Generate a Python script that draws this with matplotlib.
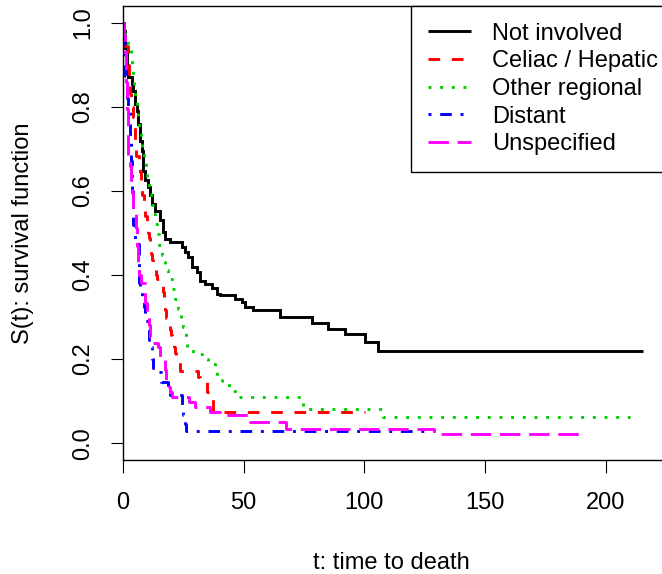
import numpy as np
import matplotlib
matplotlib.use("Agg")
import matplotlib.pyplot as plt

plt.rcParams['font.family'] = ['Liberation Sans', 'DejaVu Sans']

groups = ["Not involved", "Celiac / Hepatic", "Other regional", "Distant", "Unspecified"]
colors = ["#000000", "#FF0000", "#00CD00", "#0000FF", "#FF00FF"]

t_not = [0.3, 0.8, 1.5, 2.2, 3.6, 4.3, 5.0, 5.7, 6.4, 7.0, 7.7, 8.4, 9.1, 10.5, 11.2, 11.9,
         13.3, 15.3, 16.7, 17.4, 19.5, 24.3, 25.7, 27.1, 28.4, 30.5, 31.9, 34.0, 36.7, 38.8,
         40.2, 46.4, 49.2, 50.5, 54.0, 65.0, 78.2, 85.1, 92.1, 100.3, 105.8]
s_not = [0.98, 0.941, 0.898, 0.870, 0.854, 0.838, 0.807, 0.791, 0.759, 0.720, 0.696, 0.648,
         0.625, 0.609, 0.590, 0.569, 0.553, 0.530, 0.502, 0.486, 0.478, 0.466, 0.454, 0.442,
         0.419, 0.407, 0.387, 0.378, 0.370, 0.356, 0.352, 0.344, 0.336, 0.324, 0.318, 0.299,
         0.286, 0.272, 0.259, 0.241, 0.219]
end_not = 215.3

t_cel = [0.5, 1.0, 2.0, 2.5, 3.0, 3.5, 4.2, 5.0, 5.5, 6.5, 7.0, 7.6, 8.0, 8.6, 9.0, 9.3, 9.8,
         10.2, 10.8, 11.2, 11.5, 12.0, 12.4, 13.5, 14.2, 15.0, 16.5, 17.0, 17.5, 18.0, 19.0,
         19.5, 20.0, 20.3, 21.0, 21.5, 22.0, 23.5, 31.0, 31.8, 35.0, 35.5, 37.3]
s_cel = [0.96, 0.945, 0.90, 0.86, 0.83, 0.80, 0.775, 0.72, 0.684, 0.667, 0.644, 0.62, 0.59,
         0.572, 0.555, 0.54, 0.52, 0.50, 0.487, 0.466, 0.45, 0.435, 0.416, 0.40, 0.39, 0.38,
         0.359, 0.335, 0.316, 0.297, 0.292, 0.27, 0.257, 0.245, 0.23, 0.214, 0.192, 0.172,
         0.157, 0.145, 0.121, 0.109, 0.073]
end_cel = 100.3

t_oth = [0.5, 1.0, 2.0, 3.2, 3.6, 4.0, 4.5, 5.1, 5.6, 6.2, 6.8, 7.3, 8.0, 8.7, 9.4, 10.1, 10.9,
         11.7, 12.3, 13.1, 14.0, 15.0, 16.0, 16.7, 17.4, 18.8, 20.2, 21.5, 22.9, 24.0, 25.0,
         26.0, 26.6, 28.9, 32.6, 35.4, 38.1, 38.8, 40.9, 44.0, 46.4, 74.7, 107.8]
s_oth = [0.985, 0.973, 0.95, 0.928, 0.90, 0.876, 0.85, 0.825, 0.80, 0.771, 0.745, 0.720, 0.695,
         0.668, 0.645, 0.619, 0.593, 0.567, 0.546, 0.522, 0.498, 0.472, 0.447, 0.43, 0.411,
         0.39, 0.367, 0.343, 0.320, 0.298, 0.276, 0.252, 0.229, 0.211, 0.201, 0.189, 0.175,
         0.151, 0.142, 0.124, 0.110, 0.082, 0.0625]
end_oth = 210.0

t_dis = [0.3, 0.7, 1.0, 1.8, 2.2, 2.7, 3.0, 3.2, 3.4, 3.8, 3.9, 4.0, 4.1, 4.2, 4.8, 5.0, 6.5,
         6.6, 7.0, 7.9, 8.8, 9.2, 10.9, 11.4, 12.0, 12.6, 14.4, 15.7, 18.5, 19.3, 24.3, 25.0,
         25.6, 26.0]
s_dis = [0.95, 0.886, 0.874, 0.822, 0.80, 0.748, 0.727, 0.70, 0.672, 0.63, 0.60, 0.577, 0.546,
         0.52, 0.49, 0.475, 0.41, 0.38, 0.36, 0.336, 0.323, 0.29, 0.245, 0.228, 0.20, 0.178,
         0.169, 0.146, 0.131, 0.114, 0.086, 0.067, 0.045, 0.029]
end_dis = 125.0

t_uns = [0.5, 0.8, 1.2, 1.5, 1.8, 2.0, 2.1, 2.2, 2.8, 3.2, 3.7, 4.0, 4.2, 5.5, 5.8, 6.2, 6.8,
         7.5, 9.2, 9.8, 10.9, 11.3, 12.3, 14.5, 15.5, 17.5, 18.0, 19.0, 19.5, 20.5, 27.5, 30.0,
         36.0, 40.0, 52.6, 67.5, 129.0]
s_uns = [0.97, 0.93, 0.86, 0.84, 0.796, 0.75, 0.724, 0.684, 0.66, 0.62, 0.596, 0.577, 0.553,
         0.513, 0.47, 0.418, 0.40, 0.38, 0.333, 0.30, 0.28, 0.252, 0.238, 0.228, 0.20, 0.173,
         0.142, 0.133, 0.121, 0.109, 0.097, 0.086, 0.073, 0.066, 0.05, 0.033, 0.023]
end_uns = 190.0

x_ticks = [0, 50, 100, 150, 200]
y_ticks = [0.0, 0.2, 0.4, 0.6, 0.8, 1.0]
y_tick_labels = ["0.0", "0.2", "0.4", "0.6", "0.8", "1.0"]

series = [(t_not, s_not, end_not), (t_cel, s_cel, end_cel), (t_oth, s_oth, end_oth),
          (t_dis, s_dis, end_dis), (t_uns, s_uns, end_uns)]

# R line types (in units of line width)
dash_styles = [None, (0, (4, 4)), (0, (1, 3)), (0, (1, 3, 4, 3)), (0, (7, 3))]

W, H = 662, 574
fig = plt.figure(figsize=(W / 100, H / 100), dpi=100)
ax = fig.add_axes([123 / W, (574 - 460) / H, 540.7 / W, 454 / H])

FS = 17
lw = 2.1
handles = []
for (t, s, tend), col, ls, name in zip(series, colors, dash_styles, groups):
    tx = np.r_[0.0, np.asarray(t, float), tend]
    sy = np.r_[1.0, np.asarray(s, float), s[-1]]
    kw = dict(color=col, lw=lw, where='post', label=name,
              solid_capstyle='butt', dash_capstyle='butt', solid_joinstyle='miter')
    if ls is not None:
        kw['linestyle'] = ls
    ln, = ax.step(tx, sy, **kw)
    handles.append(ln)

ax.set_xlim(0, 224)
ax.set_ylim(-0.04, 1.04)
ax.set_xticks(x_ticks)
ax.set_xticklabels([str(v) for v in x_ticks])
ax.set_yticks(y_ticks)
ax.set_yticklabels(y_tick_labels)
ax.tick_params(axis='both', direction='out', length=9, width=0.8, labelsize=FS)
ax.tick_params(axis='x', pad=14)
ax.tick_params(axis='y', pad=12)
for lab in ax.get_yticklabels():
    lab.set_rotation(90)
    lab.set_rotation_mode('default')
    lab.set_ha('right')
    lab.set_va('center')
for sp in ax.spines.values():
    sp.set_linewidth(1.0)

ax.set_xlabel("t: time to death", fontsize=FS)
ax.xaxis.set_label_coords(0.497, (460 - 569) / 454)
ax.xaxis.label.set_va('baseline')
ax.set_ylabel("S(t): survival function", fontsize=FS)
ax.yaxis.set_label_coords((23 - 123) / 540.7, 0.5)
ax.yaxis.label.set_va('center')

leg = ax.legend(handles=handles, loc='upper left',
                bbox_to_anchor=(411 / W, 1 - 6 / H), bbox_transform=fig.transFigure,
                borderaxespad=0, fontsize=FS, frameon=True, fancybox=False,
                edgecolor='black', framealpha=1, borderpad=0.7, labelspacing=0.24,
                handlelength=1.85, handletextpad=0.9)
leg.get_frame().set_linewidth(1.0)
leg.set_clip_on(False)

fig.savefig("out.png", dpi=100)
